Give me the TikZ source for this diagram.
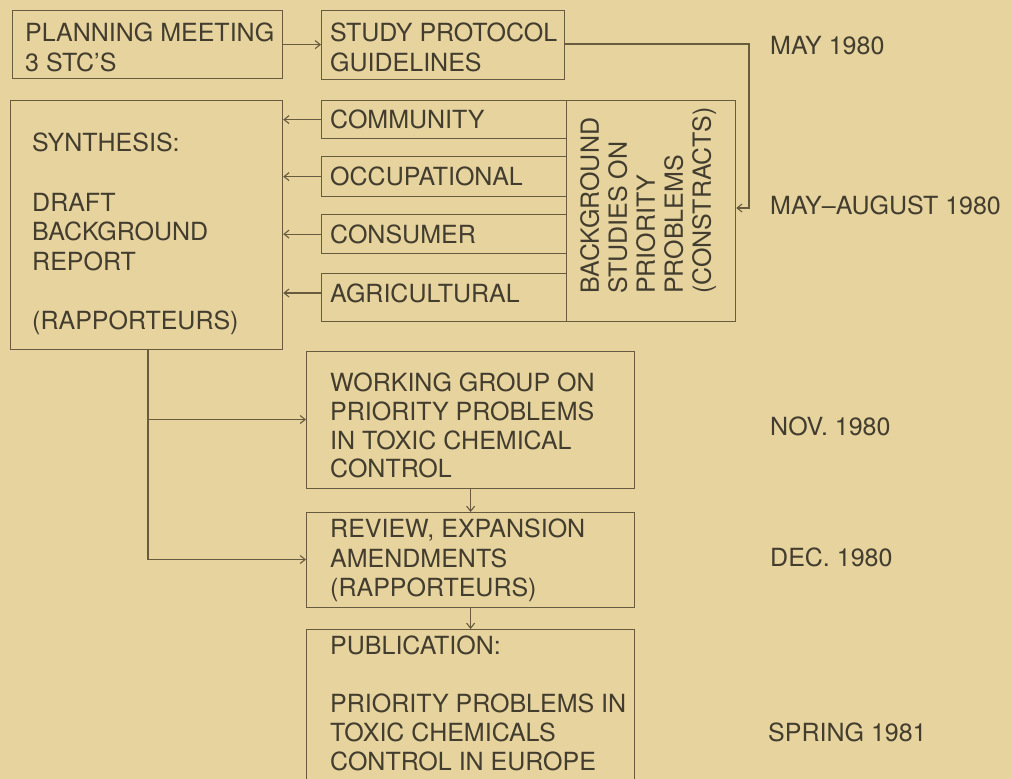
\documentclass[tikz,border=0pt]{standalone}
\usepackage{fontspec}
\setmainfont{TeX Gyre Heros}
\usetikzlibrary{arrows.meta,calc}
\definecolor{bgtan}{RGB}{230,211,158}
\definecolor{linecol}{RGB}{105,92,62}
\definecolor{textcol}{RGB}{66,61,46}
\begin{document}
\begin{tikzpicture}[x=1pt,y=-1pt,
  boxnode/.style={draw=linecol,line width=1.2pt,rectangle,inner sep=0pt,anchor=north west},
  txt/.style={text=textcol,inner sep=0pt,align=left,font=\fontsize{25}{29.5}\selectfont},
  conn/.style={draw=linecol,line width=1.1pt},
  arr/.style={conn,-{Straight Barb[length=5pt,width=8pt]}}]
\useasboundingbox (0,0) rectangle (1012,779);
\fill[bgtan] (0,0) rectangle (1012,779);
% boxes
\node[boxnode,minimum width=270pt,minimum height=68pt] (plan) at (12,10) {};
\node[boxnode,minimum width=243pt,minimum height=69pt] (study) at (321,10) {};
\node[boxnode,minimum width=272pt,minimum height=249pt] (syn) at (10,100) {};
\node[boxnode,minimum width=169pt,minimum height=221pt] (bgs) at (566,100) {};
\node[boxnode,minimum width=245pt,minimum height=38pt] (comm) at (321,100) {};
\node[boxnode,minimum width=245pt,minimum height=40pt] (occ) at (321,156) {};
\node[boxnode,minimum width=245pt,minimum height=39pt] (cons) at (321,214) {};
\node[boxnode,minimum width=245pt,minimum height=48pt] (agr) at (321,273) {};
\node[boxnode,minimum width=328pt,minimum height=137pt] (wg) at (306,351) {};
\node[boxnode,minimum width=328pt,minimum height=95pt] (rev) at (306,512) {};
\node[boxnode,minimum width=328pt,minimum height=180pt] (pub) at (306,629) {};
% texts
\node[txt,anchor=north west] (tplan) at (25,23) {PLANNING MEETING\\3 STC'S};
\node[txt,anchor=north west] (tstudy) at (330,23) {STUDY PROTOCOL\\GUIDELINES};
\node[txt,anchor=west] (tcomm) at (330,119) {COMMUNITY};
\node[txt,anchor=west] (tocc) at (330,176) {OCCUPATIONAL};
\node[txt,anchor=west] (tcons) at (330,234) {CONSUMER};
\node[txt,anchor=west] (tagr) at (330,293) {AGRICULTURAL};
\node[txt,anchor=north west] (tsyn) at (32,133) {SYNTHESIS:\\[30pt]DRAFT\\BACKGROUND\\REPORT\\[30pt](RAPPORTEURS)};
\node[txt,anchor=north west,rotate=90,font=\fontsize{25}{28}\selectfont] (tbgs) at (580,294) {BACKGROUND\\STUDIES ON\\PRIORITY\\PROBLEMS\\(CONSTRACTS)};
\node[txt,anchor=north west,font=\fontsize{25}{28.7}\selectfont] (twg) at (330,373) {WORKING GROUP ON\\PRIORITY PROBLEMS\\IN TOXIC CHEMICAL\\CONTROL};
\node[txt,anchor=north west] (trev) at (330,519) {REVIEW, EXPANSION\\AMENDMENTS\\(RAPPORTEURS)};
\node[txt,anchor=north west,font=\fontsize{25}{29}\selectfont] (tpub) at (330,636) {PUBLICATION:\\[29pt]PRIORITY PROBLEMS IN\\TOXIC CHEMICALS\\CONTROL IN EUROPE};
% dates
\node[txt,anchor=west] (d1) at (770,46) {MAY 1980};
\node[txt,anchor=west] (d2) at (770,205) {MAY–AUGUST 1980};
\node[txt,anchor=west] (d3) at (770,426) {NOV. 1980};
\node[txt,anchor=west] (d4) at (770,557) {DEC. 1980};
\node[txt,anchor=west] (d5) at (768,732) {SPRING 1981};
% connectors
\coordinate (c1) at (749,44);
\coordinate (c2) at (749,208);
\coordinate (j0) at (148,349);
\coordinate (j1) at (148,419.5);
\coordinate (j2) at (148,559.5);
\draw[arr] (plan.east) -- (plan.east -| study.west);
\draw[arr] (study.east |- c1) -- (c1) -- (c2) -- (c2 -| bgs.east);
\draw[arr] (comm.west) -- (comm.west -| syn.east);
\draw[arr] (occ.west) -- (occ.west -| syn.east);
\draw[arr] (cons.west) -- (cons.west -| syn.east);
\draw[arr] (agr.west |- 0,293) -- (syn.east |- 0,293);
\draw[conn] (j0) -- (j2);
\draw[arr] (j1) -- (j1 -| wg.west);
\draw[arr] (j2) -- (j2 -| rev.west);
\draw[arr] (wg.south) -- (rev.north);
\draw[arr] (rev.south) -- (pub.north);
\end{tikzpicture}
\end{document}
